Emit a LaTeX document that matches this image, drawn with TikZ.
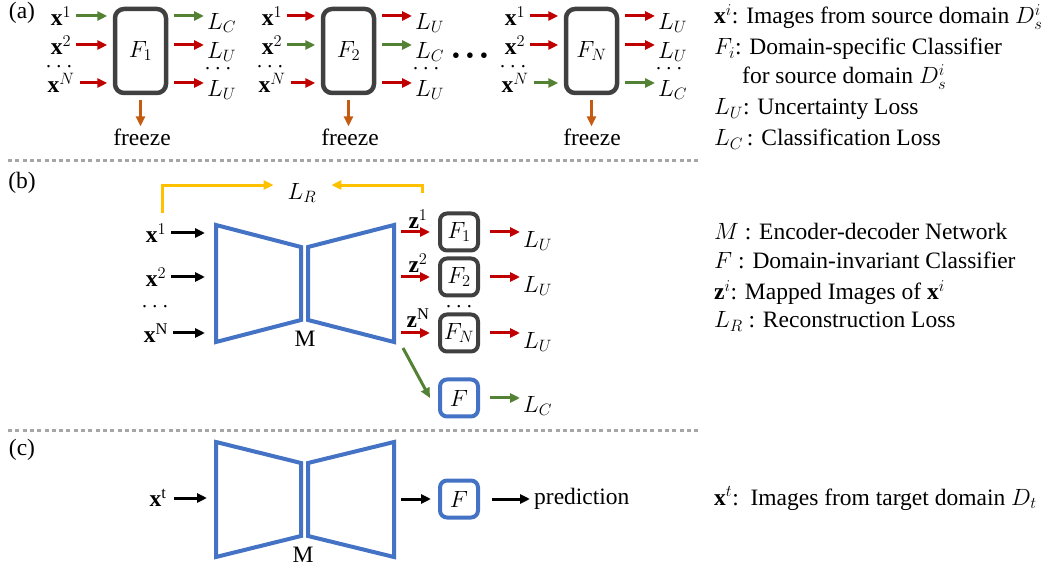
\RequirePackage{fix-cm}
\documentclass[tikz,border=0pt]{standalone}
\usepackage{fontspec}
\setmainfont{Liberation Serif}
\usetikzlibrary{arrows.meta,positioning,calc}
\definecolor{boxgray}{HTML}{404040}
\definecolor{red2}{HTML}{C00000}
\definecolor{green2}{HTML}{548235}
\definecolor{orange2}{HTML}{C55A11}
\definecolor{yellow2}{HTML}{FFC000}
\definecolor{blue2}{HTML}{4472C4}
\definecolor{sepgray}{HTML}{A6A6A6}

\begin{document}
\begin{tikzpicture}[
          x=1pt, y=-1pt,
          every node/.style={font=\fontsize{23.5}{28}\selectfont, inner sep=2pt},
          txt/.style={anchor=base west},
          arr/.style={line width=3pt, -{Triangle[length=10pt,width=9pt]}},
          redarr/.style={arr, red2},
          grnarr/.style={arr, green2},
          blkarr/.style={arr, black},
          orgarr/.style={arr, orange2},
          ylwarr/.style={arr, yellow2},
          inarr/.style={shorten <=3pt, shorten >=5.5pt},
          outarr/.style={shorten <=6pt, shorten >=1pt},
          cls/.style={draw=boxgray, line width=4.5pt, rounded corners=9pt,
                      minimum width=51pt, minimum height=84pt},
          smallcls/.style={draw=boxgray, line width=4pt, rounded corners=7pt,
                      minimum width=38pt, minimum height=37pt},
          inv/.style={smallcls, draw=blue2},
          net/.style={draw=blue2, line width=4pt, line join=miter},
          sep/.style={draw=sepgray, line width=3pt, dash pattern=on 4pt off 3.3pt}
      ]
        \useasboundingbox (0,0) rectangle (1045,569);

        % (a) one classifier per source domain
        \node (tagA) at (22,13) {(a)};

        \node[cls] (Fa1) at (140.5,51) {$F_1$};
        \node (a1x1) at (61,16) {$\mathbf{x}^1$};
        \node (a1x2) at (61,45) {$\mathbf{x}^2$};
        \node (a1dt) at (59,67) {$\cdots$};
        \node (a1xN) at (61,83) {$\mathbf{x}^N$};
        \node[anchor=west] (a1L1) at (205,23) {$L_C$};
        \node[anchor=west] (a1L2) at (205,52) {$L_U$};
        \node (a1Ldt) at (218,69) {$\cdots$};
        \node[anchor=west] (a1LN) at (205,90) {$L_U$};
        \draw[grnarr, inarr] (a1x1.east) -- (a1x1 -| Fa1.west);
        \draw[redarr, inarr] (a1x2.east) -- (a1x2 -| Fa1.west);
        \draw[redarr, inarr] (a1xN.east) -- (a1xN -| Fa1.west);
        \draw[grnarr, outarr] (a1x1 -| Fa1.east) -- (a1x1 -| a1L1.west);
        \draw[redarr, outarr] (a1x2 -| Fa1.east) -- (a1x2 -| a1L2.west);
        \draw[redarr, outarr] (a1xN -| Fa1.east) -- (a1xN -| a1LN.west);
        \node (a1fz) at (142,137) {freeze};
        \draw[orgarr, shorten <=5pt] (Fa1.south) -- (Fa1.south |- a1fz.north);

        \node[cls] (Fa2) at (348.5,51) {$F_2$};
        \node (a2x1) at (272,16) {$\mathbf{x}^1$};
        \node (a2x2) at (272,45) {$\mathbf{x}^2$};
        \node (a2dt) at (270,67) {$\cdots$};
        \node (a2xN) at (272,83) {$\mathbf{x}^N$};
        \node[anchor=west] (a2L1) at (413,23) {$L_U$};
        \node[anchor=west] (a2L2) at (413,52) {$L_C$};
        \node (a2Ldt) at (426,69) {$\cdots$};
        \node[anchor=west] (a2LN) at (413,90) {$L_U$};
        \draw[redarr, inarr] (a2x1.east) -- (a2x1 -| Fa2.west);
        \draw[grnarr, inarr] (a2x2.east) -- (a2x2 -| Fa2.west);
        \draw[redarr, inarr] (a2xN.east) -- (a2xN -| Fa2.west);
        \draw[redarr, outarr] (a2x1 -| Fa2.east) -- (a2x1 -| a2L1.west);
        \draw[grnarr, outarr] (a2x2 -| Fa2.east) -- (a2x2 -| a2L2.west);
        \draw[redarr, outarr] (a2xN -| Fa2.east) -- (a2xN -| a2LN.west);
        \node (a2fz) at (350,137) {freeze};
        \draw[orgarr, shorten <=5pt] (Fa2.south) -- (Fa2.south |- a2fz.north);

        \node (adots) at (470,58) {• • •};

        \node[cls] (FaN) at (591.5,51) {$F_N$};
        \node (aNx1) at (515,16) {$\mathbf{x}^1$};
        \node (aNx2) at (515,45) {$\mathbf{x}^2$};
        \node (aNdt) at (513,67) {$\cdots$};
        \node (aNxN) at (515,83) {$\mathbf{x}^N$};
        \node[anchor=west] (aNL1) at (656,23) {$L_U$};
        \node[anchor=west] (aNL2) at (656,52) {$L_U$};
        \node (aNLdt) at (669,69) {$\cdots$};
        \node[anchor=west] (aNLN) at (656,90) {$L_C$};
        \draw[redarr, inarr] (aNx1.east) -- (aNx1 -| FaN.west);
        \draw[redarr, inarr] (aNx2.east) -- (aNx2 -| FaN.west);
        \draw[grnarr, inarr] (aNxN.east) -- (aNxN -| FaN.west);
        \draw[redarr, outarr] (aNx1 -| FaN.east) -- (aNx1 -| aNL1.west);
        \draw[redarr, outarr] (aNx2 -| FaN.east) -- (aNx2 -| aNL2.west);
        \draw[grnarr, outarr] (aNxN -| FaN.east) -- (aNxN -| aNLN.west);
        \node (aNfz) at (592,137) {freeze};
        \draw[orgarr, shorten <=5pt] (FaN.south) -- (FaN.south |- aNfz.north);

        \node[txt] (lgA1) at (712,24) {$\mathbf{x}^i$: Images from source domain $D_s^i$};
        \node[txt] (lgA2) at (712,55) {$F_i$: Domain-specific Classifier};
        \node[txt] (lgA3) at (740,84) {for source domain $D_s^i$};
        \node[txt] (lgA4) at (712,115) {$L_U$: Uncertainty Loss};
        \node[txt] (lgA5) at (712,146) {$L_C$\,: Classification Loss};

        \draw[sep] (8,161) -- (700,161);

        % (b) encoder-decoder trained against the frozen classifiers
        \node (tagB) at (22,183) {(b)};

        \coordinate (eTL) at (216,225);
        \coordinate (eTR) at (301,247);
        \coordinate (eBR) at (301,320);
        \coordinate (eBL) at (216,342);
        \coordinate (dTL) at (308,247);
        \coordinate (dTR) at (394,225);
        \coordinate (dBR) at (394,342);
        \coordinate (dBL) at (308,320);
        \draw[net] (eTL) -- (eTR) -- (eBR) -- (eBL) -- cycle;
        \draw[net] (dTL) -- (dTR) -- (dBR) -- (dBL) -- cycle;
        \node (bM) at (305,339) {M};

        \node (bx1) at (156,233) {$\mathbf{x}^1$};
        \node (bx2) at (156,277) {$\mathbf{x}^2$};
        \node (bdt) at (155,307) {$\cdots$};
        \node (bxN) at (156,333) {$\mathbf{x}^{\mathrm{N}}$};
        \draw[blkarr, shorten <=3pt, shorten >=11pt] (bx1.east) -- (bx1 -| eTL);
        \draw[blkarr, shorten <=3pt, shorten >=11pt] (bx2.east) -- (bx2 -| eTL);
        \draw[blkarr, shorten <=3pt, shorten >=11pt] (bxN.east) -- (bxN -| eTL);

        \node[smallcls] (Fb1) at (459,232) {$F_1$};
        \node[smallcls] (Fb2) at (459,277) {$F_2$};
        \node (bdt2) at (459,307) {$\cdots$};
        \node[smallcls] (FbN) at (459,333) {$F_N$};
        \node[inv] (Fb) at (459,398) {$F$};

        \node (bz1) at (418,219) {$\mathbf{z}^1$};
        \node (bz2) at (418,263) {$\mathbf{z}^2$};
        \node (bzN) at (418,318) {$\mathbf{z}^{\mathrm{N}}$};
        \draw[redarr, shorten <=7pt, shorten >=8pt] (Fb1.west -| dTR) -- (Fb1.west);
        \draw[redarr, shorten <=7pt, shorten >=8pt] (Fb2.west -| dTR) -- (Fb2.west);
        \draw[redarr, shorten <=7pt, shorten >=8pt] (FbN.west -| dTR) -- (FbN.west);
        \draw[grnarr] ([shift={(9,6)}]dBR) -- ([xshift=-8pt]Fb.west);

        \node[anchor=west] (bL1) at (521,241) {$L_U$};
        \node[anchor=west] (bL2) at (521,286) {$L_U$};
        \node[anchor=west] (bLN) at (521,342) {$L_U$};
        \node[anchor=west] (bLc) at (521,406) {$L_C$};
        \draw[redarr, shorten <=10pt, shorten >=1pt] (Fb1.east) -- (Fb1.east -| bL1.west);
        \draw[redarr, shorten <=10pt, shorten >=1pt] (Fb2.east) -- (Fb2.east -| bL2.west);
        \draw[redarr, shorten <=10pt, shorten >=1pt] (FbN.east) -- (FbN.east -| bLN.west);
        \draw[grnarr, shorten <=10pt, shorten >=1pt] (Fb.east) -- (Fb.east -| bLc.west);

        \node (bLR) at (302,193) {$L_R$};
        \draw[ylwarr, shorten <=8pt, shorten >=12pt] ([xshift=6pt]bx1.north) |- ([yshift=-4pt]bLR.north west);
        \draw[ylwarr, shorten <=14pt, shorten >=13pt] ([xshift=4pt]bz1.north) |- ([yshift=-4pt]bLR.north east);

        \node[txt] (lgB1) at (712,240) {$M$ : Encoder-decoder Network};
        \node[txt] (lgB2) at (712,269) {$F$ : Domain-invariant Classifier};
        \node[txt] (lgB3) at (712,300) {$\mathbf{z}^i$: Mapped Images of $\mathbf{x}^i$};
        \node[txt] (lgB4) at (712,328) {$L_R$ : Reconstruction Loss};

        \draw[sep] (8,431) -- (700,431);

        % (c) inference on the target domain
        \node (tagC) at (22,450) {(c)};

        \coordinate (cTL) at (216,442);
        \coordinate (cTR) at (301,463);
        \coordinate (cBR) at (301,536);
        \coordinate (cBL) at (216,557);
        \coordinate (gTL) at (308,463);
        \coordinate (gTR) at (394,442);
        \coordinate (gBR) at (394,557);
        \coordinate (gBL) at (308,536);
        \draw[net] (cTL) -- (cTR) -- (cBR) -- (cBL) -- cycle;
        \draw[net] (gTL) -- (gTR) -- (gBR) -- (gBL) -- cycle;
        \node (cM) at (303,555) {M};

        \node (cxt) at (158,498) {$\mathbf{x}^{\mathrm{t}}$};
        \node[inv] (Fc) at (459,499) {$F$};
        \node[anchor=west] (cpred) at (532,499) {prediction};
        \draw[blkarr, shorten <=5pt, shorten >=9pt] (cxt.east) -- (cxt -| cTL);
        \draw[blkarr, shorten <=7pt, shorten >=7pt] (Fc.west -| gTR) -- (Fc.west);
        \draw[blkarr, shorten <=12pt, shorten >=2pt] (Fc.east) -- (Fc.east -| cpred.west);

        \node[txt] (lgC1) at (712,505) {$\mathbf{x}^t$:\ \ Images from target domain $D_t$};
      \end{tikzpicture}
\end{document}
